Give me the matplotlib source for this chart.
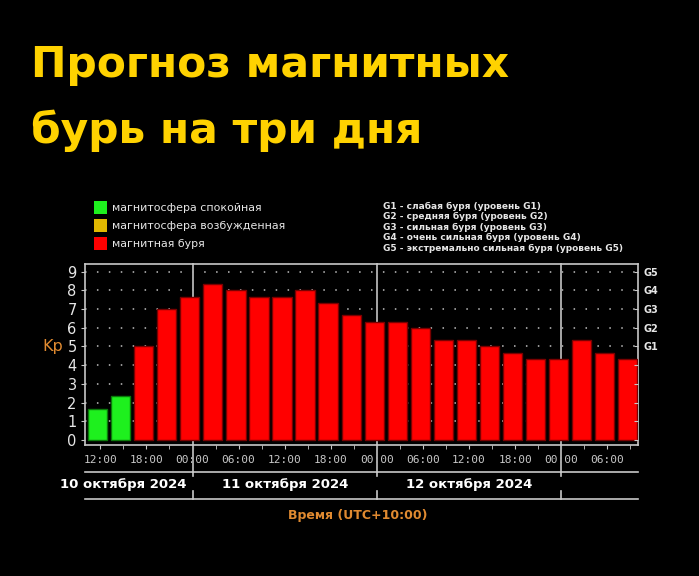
import numpy as np
import matplotlib
matplotlib.use('Agg')
import matplotlib.pyplot as plt

# Kp forecast, 3-hour intervals starting 10 Oct 2024 ~10:30 (UTC+10)
kp = [1.67, 2.33, 5.0, 7.0, 7.67, 8.33, 8.0, 7.67, 7.67, 8.0, 7.33, 6.67,
      6.33, 6.33, 6.0, 5.33, 5.33, 5.0, 4.67, 4.33, 4.33, 5.33, 4.67, 4.33]
status = ['calm', 'calm'] + ['storm'] * 22
bar_start = 10.4          # hours from 10 Oct 00:00
time_labels = ['12:00', '18:00', '00:00', '06:00'] * 3
day_labels = ['10 октября 2024', '11 октября 2024', '12 октября 2024']
day_label_pos = [15, 36, 60]
g_levels = ['G1', 'G2', 'G3', 'G4', 'G5']
legend_left = ['магнитосфера спокойная', 'магнитосфера возбужденная', 'магнитная буря']
legend_right = ['G1 - слабая буря (уровень G1)',
                'G2 - средняя буря (уровень G2)',
                'G3 - сильная буря (уровень G3)',
                'G4 - очень сильная буря (уровень G4)',
                'G5 - экстремально сильная буря (уровень G5)']

colors = {'calm': '#1ef01e', 'active': '#e0b800', 'storm': '#ff0000'}
edges = {'calm': '#0a7a0a', 'active': '#806000', 'storm': '#7a0000'}
W, H = 699, 576
fg = '#e6e6e6'
orange = '#e08a30'


def fx(px):
    return px / W


def fy(py):
    return 1 - py / H


def ypx(py):
    # pixel row -> Kp data units
    return (440 - py) / 18.7


fig = plt.figure(figsize=(W / 100, H / 100), dpi=100, facecolor='black')
ax = fig.add_axes([fx(85), fy(445), fx(638) - fx(85), (445 - 264) / H])
ax.set_facecolor('black')

x = bar_start + 3 * np.arange(len(kp))
ax.bar(x, kp, width=2.5, align='edge',
       color=[colors[s] for s in status],
       edgecolor=[edges[s] for s in status], linewidth=1.0, zorder=3)

ax.set_xlim(10, 82)
ax.set_ylim(-0.27, 9.41)

# dotted horizontal grid
for lev in range(1, 10):
    ax.axhline(lev, color='#c0c0c0', lw=1.1, dashes=(1, 6.8), zorder=1)

# day separators
for d in [24, 48, 72]:
    ax.plot([d, d], [9.41, ypx(472)], color='#a8a8a8', lw=1.4,
            clip_on=False, zorder=2)

for sp in ax.spines.values():
    sp.set_color('#c8c8c8')
    sp.set_linewidth(1.2)

ax.set_yticks(range(10))
ax.set_yticklabels([str(i) for i in range(10)], color=fg, fontsize=10.5)
ax.tick_params(axis='y', colors='#c8c8c8', length=3, labelcolor=fg, pad=3)
ax.set_xticks(np.arange(12, 79, 6))
ax.set_xticklabels(time_labels, family='DejaVu Sans Mono', fontsize=8, color='#c8c8c8')
ax.set_xticks(np.arange(12, 82, 3), minor=True)
ax.tick_params(axis='x', which='both', colors='#c8c8c8', length=3, pad=4,
               labelcolor='#c8c8c8')

# right axis with G levels
ax2 = ax.twinx()
ax2.set_ylim(ax.get_ylim())
ax2.set_yticks(range(10))
ax2.set_yticklabels([''] * 5 + g_levels, fontsize=7, color=fg, weight='bold')
ax2.tick_params(axis='y', direction='in', length=3, colors='#c8c8c8',
                labelcolor=fg, pad=4)
for sp in ax2.spines.values():
    sp.set_visible(False)

ax.text(-0.058, 5, 'Kp', transform=ax.get_yaxis_transform(), color=orange,
        fontsize=11.5, ha='center', va='center')

# date band below axis
for yy in [472, 499]:
    ax.plot([10, 82], [ypx(yy), ypx(yy)], color='#c8c8c8', lw=1.2, clip_on=False)
for d in [24, 48, 72]:
    ax.plot([d, d], [ypx(472), ypx(476)], color='#c8c8c8', lw=1.2, clip_on=False)
    ax.plot([d, d], [ypx(491), ypx(499)], color='#c8c8c8', lw=1.2, clip_on=False)
for pos, lab in zip(day_label_pos, day_labels):
    ax.text(pos, ypx(485), lab, color='white', fontsize=9.5, weight='bold',
            ha='center', va='center', clip_on=False)

fig.text(fx(358), fy(515), 'Время (UTC+10:00)', color=orange, fontsize=9,
         weight='bold', ha='center', va='center')

# title
title_kw = dict(color='#ffd200', fontsize=30.5, family='DejaVu Sans', weight='bold',
                ha='left', va='baseline')
fig.text(fx(31), fy(77), 'Прогноз магнитных', **title_kw)
fig.text(fx(31), fy(143), 'бурь на три дня', **title_kw)

# left legend
for i, (lab, key) in enumerate(zip(legend_left, ['calm', 'active', 'storm'])):
    yy = 208 + 17.8 * i
    fig.patches.append(plt.Rectangle((fx(94), fy(yy + 6.5)), 13 / W, 13 / H,
                                     facecolor=colors[key], edgecolor='none',
                                     transform=fig.transFigure))
    fig.text(fx(112), fy(yy), lab, color=fg, fontsize=7.9, ha='left', va='center')

# right legend
for i, lab in enumerate(legend_right):
    fig.text(fx(383), fy(206 + 10.5 * i), lab, color=fg, fontsize=6.5,
             weight='bold', ha='left', va='center')

fig.savefig('out.png', dpi=100, facecolor='black')
